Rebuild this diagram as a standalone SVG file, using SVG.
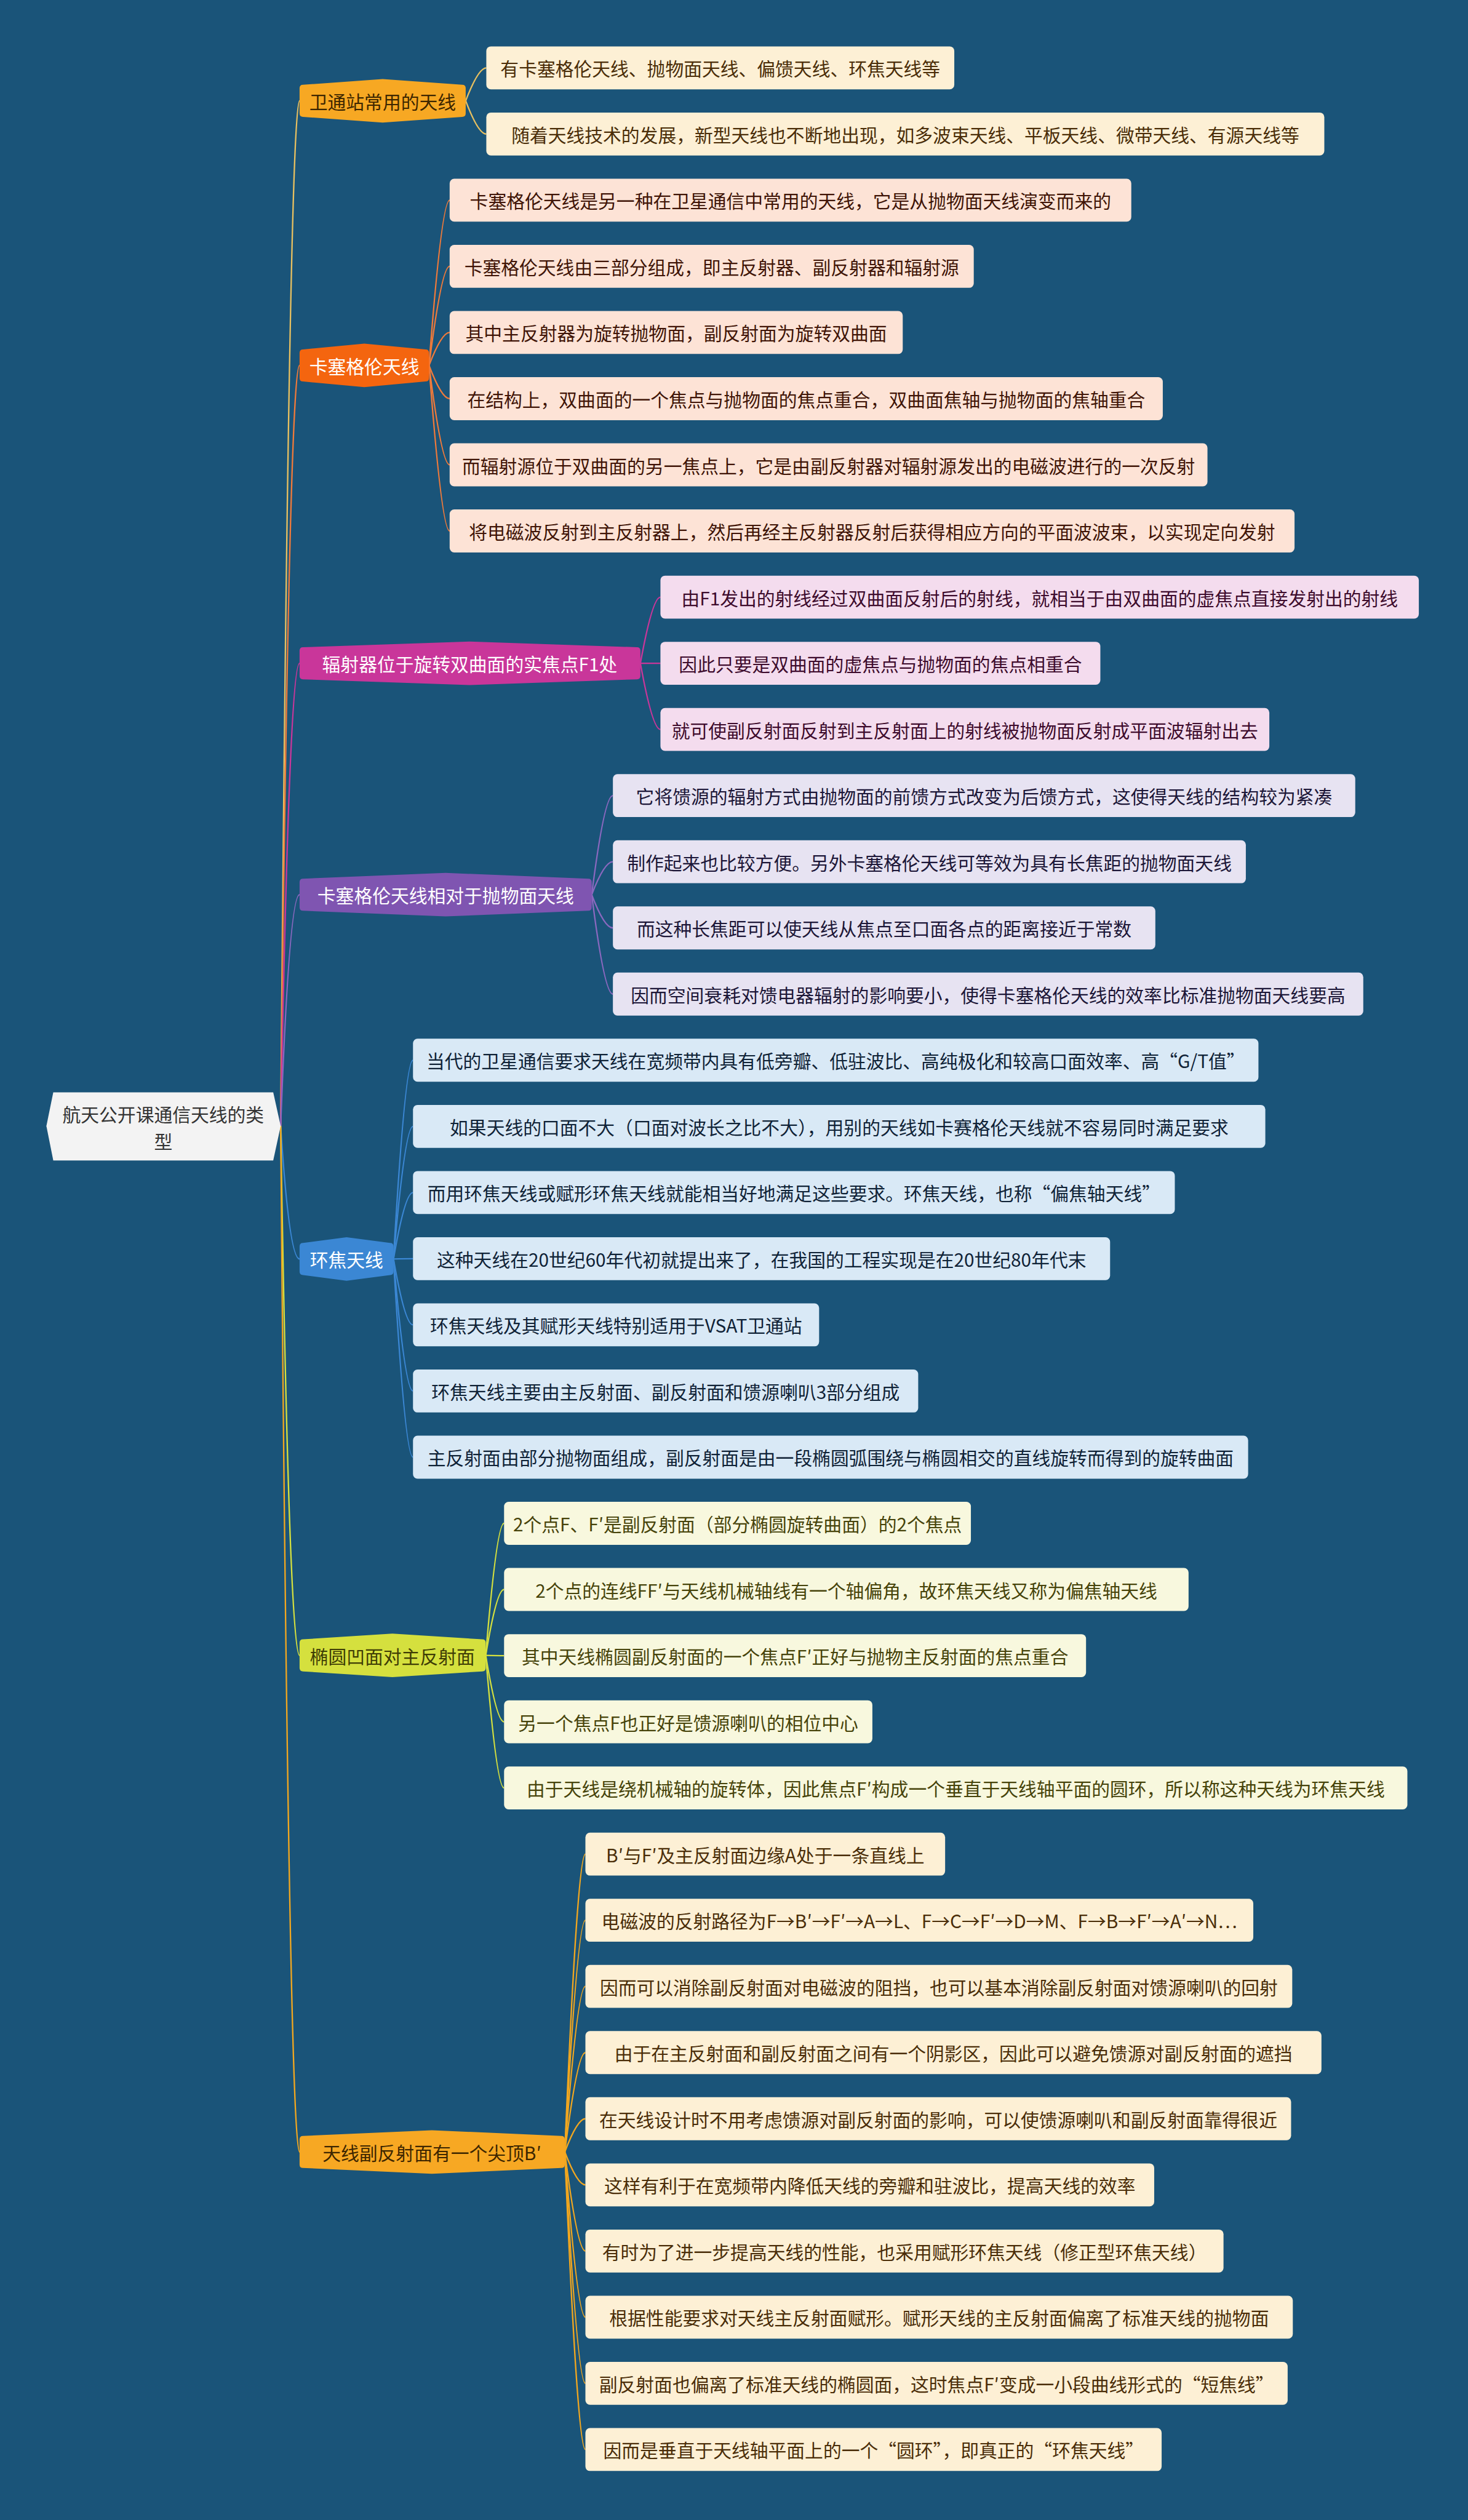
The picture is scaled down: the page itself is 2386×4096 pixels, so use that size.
<svg xmlns="http://www.w3.org/2000/svg" width="2386" height="4096" viewBox="0 0 2386 4096">
<style>
text{font-family:"Noto Sans CJK SC","Microsoft YaHei",sans-serif;font-size:32px;text-anchor:middle;dominant-baseline:central}
.cn path{fill:none;stroke-width:2.5}
.k1{stroke:#e8c060}.k2{stroke:#f07a3a}.k3{stroke:#c9369a}.k4{stroke:#8a68bf}.k5{stroke:#3b87d4}.k6{stroke:#d5e03e}.k7{stroke:#f2a71f}
.c rect.b{rx:8;ry:8}
.g1 .b,.g7 .b{fill:#fdf0d5}.g1 text,.g7 text{fill:#4a2d08}
.g2 .b{fill:#fde3d6}.g2 text{fill:#3f1406}
.g3 .b{fill:#f4dcee}.g3 text{fill:#3d0b2c}
.g4 .b{fill:#e7e3f2}.g4 text{fill:#1c1637}
.g5 .b{fill:#d9e9f6}.g5 text{fill:#0f2236}
.g6 .b{fill:#f8f8de}.g6 text{fill:#46430a}
</style>
<rect x="0" y="0" width="2386" height="4096" fill="#1a5479"/>
<g transform="scale(0.931)">
<g id="connectors" class="cn">
<path class="k1" d="M490 1966Q505 176 523 176"/>
<path class="k2" d="M490 1966Q505 638 523 638"/>
<path class="k3" d="M490 1966Q505 1158 523 1158"/>
<path class="k4" d="M490 1966Q505 1562 523 1562"/>
<path class="k5" d="M490 1966Q505 2198 523 2198"/>
<path class="k6" d="M490 1966Q505 2890 523 2890"/>
<path class="k7" d="M490 1966Q505 3757 523 3757"/>
<path class="k1" d="M813 176Q835 118.5 849 118.5"/>
<path class="k1" d="M813 176Q835 234 849 234"/>
<path class="k2" d="M749 638Q771 349.5 785 349.5"/>
<path class="k2" d="M749 638Q771 465 785 465"/>
<path class="k2" d="M749 638Q771 580.5 785 580.5"/>
<path class="k2" d="M749 638Q771 696 785 696"/>
<path class="k2" d="M749 638Q771 811.5 785 811.5"/>
<path class="k2" d="M749 638Q771 927 785 927"/>
<path class="k3" d="M1118 1158Q1139 1042.5 1153 1042.5"/>
<path class="k3" d="M1118 1158Q1139 1158 1153 1158"/>
<path class="k3" d="M1118 1158Q1139 1273.5 1153 1273.5"/>
<path class="k4" d="M1033 1562Q1055 1389 1070 1389"/>
<path class="k4" d="M1033 1562Q1055 1504.5 1070 1504.5"/>
<path class="k4" d="M1033 1562Q1055 1620 1070 1620"/>
<path class="k4" d="M1033 1562Q1055 1735.5 1070 1735.5"/>
<path class="k5" d="M687 2198Q707 1851 721 1851"/>
<path class="k5" d="M687 2198Q707 1966.5 721 1966.5"/>
<path class="k5" d="M687 2198Q707 2082 721 2082"/>
<path class="k5" d="M687 2198Q707 2197.5 721 2197.5"/>
<path class="k5" d="M687 2198Q707 2313 721 2313"/>
<path class="k5" d="M687 2198Q707 2428.5 721 2428.5"/>
<path class="k5" d="M687 2198Q707 2544 721 2544"/>
<path class="k6" d="M848 2890Q867 2659.5 880 2659.5"/>
<path class="k6" d="M848 2890Q867 2775 880 2775"/>
<path class="k6" d="M848 2890Q867 2890.5 880 2890.5"/>
<path class="k6" d="M848 2890Q867 3006 880 3006"/>
<path class="k6" d="M848 2890Q867 3121.5 880 3121.5"/>
<path class="k7" d="M986 3757Q1008 3237 1022 3237"/>
<path class="k7" d="M986 3757Q1008 3352.5 1022 3352.5"/>
<path class="k7" d="M986 3757Q1008 3468 1022 3468"/>
<path class="k7" d="M986 3757Q1008 3583.5 1022 3583.5"/>
<path class="k7" d="M986 3757Q1008 3699 1022 3699"/>
<path class="k7" d="M986 3757Q1008 3814.5 1022 3814.5"/>
<path class="k7" d="M986 3757Q1008 3930 1022 3930"/>
<path class="k7" d="M986 3757Q1008 4045.5 1022 4045.5"/>
<path class="k7" d="M986 3757Q1008 4161 1022 4161"/>
<path class="k7" d="M986 3757Q1008 4276.5 1022 4276.5"/>
</g>
<g id="root">
<path d="M81 1966L93 1907L477 1907L490 1966L477 2026L93 2026Z" fill="#f3f3f3"/>
<text x="285" y="1944" fill="#333333">航天公开课通信天线的类</text>
<text x="285" y="1991" fill="#333333">型</text>
</g>
<g id="b1"><path d="M529 148L668 138L807 148Q813 148 813 154L813 198Q813 204 807 204L668 214L529 204Q523 204 523 198L523 154Q523 148 529 148Z" fill="#f7a823"/><text x="668" y="176" fill="#3d2600">卫通站常用的天线</text></g>
<g id="b2"><path d="M529 610L636 600L743 610Q749 610 749 616L749 660Q749 666 743 666L636 676L529 666Q523 666 523 660L523 616Q523 610 529 610Z" fill="#f4650f"/><text x="636" y="638" fill="#ffffff">卡塞格伦天线</text></g>
<g id="b3"><path d="M529 1130L820 1120L1112 1130Q1118 1130 1118 1136L1118 1180Q1118 1186 1112 1186L820 1196L529 1186Q523 1186 523 1180L523 1136Q523 1130 529 1130Z" fill="#c9369a"/><text x="820" y="1158" fill="#ffffff">辐射器位于旋转双曲面的实焦点F1处</text></g>
<g id="b4"><path d="M529 1534L778 1524L1027 1534Q1033 1534 1033 1540L1033 1584Q1033 1590 1027 1590L778 1600L529 1590Q523 1590 523 1584L523 1540Q523 1534 529 1534Z" fill="#7f55b1"/><text x="778" y="1562" fill="#ffffff">卡塞格伦天线相对于抛物面天线</text></g>
<g id="b5"><path d="M529 2170L605 2160L681 2170Q687 2170 687 2176L687 2220Q687 2226 681 2226L605 2236L529 2226Q523 2226 523 2220L523 2176Q523 2170 529 2170Z" fill="#3b87d4"/><text x="605" y="2198" fill="#ffffff">环焦天线</text></g>
<g id="b6"><path d="M529 2862L685 2852L842 2862Q848 2862 848 2868L848 2912Q848 2918 842 2918L685 2928L529 2918Q523 2918 523 2912L523 2868Q523 2862 529 2862Z" fill="#d5e03e"/><text x="685" y="2890" fill="#3e3c05">椭圆凹面对主反射面</text></g>
<g id="b7"><path d="M529 3729L754 3719L980 3729Q986 3729 986 3735L986 3779Q986 3785 980 3785L754 3795L529 3785Q523 3785 523 3779L523 3735Q523 3729 529 3729Z" fill="#f7a823"/><text x="754" y="3757" fill="#3d2600">天线副反射面有一个尖顶B′</text></g>

<g class="c g1">
<g id="n0"><rect class="b" x="849" y="81" width="817" height="75"/><text x="1257.5" y="118.5">有卡塞格伦天线、抛物面天线、偏馈天线、环焦天线等</text></g>
<g id="n1"><rect class="b" x="849" y="196.5" width="1463" height="75"/><text x="1580.5" y="234">随着天线技术的发展，新型天线也不断地出现，如多波束天线、平板天线、微带天线、有源天线等</text></g>
</g>
<g class="c g2">
<g id="n2"><rect class="b" x="785" y="312" width="1190" height="75"/><text x="1380" y="349.5">卡塞格伦天线是另一种在卫星通信中常用的天线，它是从抛物面天线演变而来的</text></g>
<g id="n3"><rect class="b" x="785" y="427.5" width="915" height="75"/><text x="1242.5" y="465">卡塞格伦天线由三部分组成，即主反射器、副反射器和辐射源</text></g>
<g id="n4"><rect class="b" x="785" y="543" width="791" height="75"/><text x="1180.5" y="580.5">其中主反射器为旋转抛物面，副反射面为旋转双曲面</text></g>
<g id="n5"><rect class="b" x="785" y="658.5" width="1245" height="75"/><text x="1407.5" y="696">在结构上，双曲面的一个焦点与抛物面的焦点重合，双曲面焦轴与抛物面的焦轴重合</text></g>
<g id="n6"><rect class="b" x="785" y="774" width="1323" height="75"/><text x="1446.5" y="811.5">而辐射源位于双曲面的另一焦点上，它是由副反射器对辐射源发出的电磁波进行的一次反射</text></g>
<g id="n7"><rect class="b" x="785" y="889.5" width="1475" height="75"/><text x="1522.5" y="927">将电磁波反射到主反射器上，然后再经主反射器反射后获得相应方向的平面波波束，以实现定向发射</text></g>
</g>
<g class="c g3">
<g id="n8"><rect class="b" x="1153" y="1005" width="1324" height="75"/><text x="1815" y="1042.5">由F1发出的射线经过双曲面反射后的射线，就相当于由双曲面的虚焦点直接发射出的射线</text></g>
<g id="n9"><rect class="b" x="1153" y="1120.5" width="768" height="75"/><text x="1537" y="1158">因此只要是双曲面的虚焦点与抛物面的焦点相重合</text></g>
<g id="n10"><rect class="b" x="1153" y="1236" width="1063" height="75"/><text x="1684.5" y="1273.5">就可使副反射面反射到主反射面上的射线被抛物面反射成平面波辐射出去</text></g>
</g>
<g class="c g4">
<g id="n11"><rect class="b" x="1070" y="1351.5" width="1296" height="75"/><text x="1718" y="1389">它将馈源的辐射方式由抛物面的前馈方式改变为后馈方式，这使得天线的结构较为紧凑</text></g>
<g id="n12"><rect class="b" x="1070" y="1467" width="1105" height="75"/><text x="1622.5" y="1504.5">制作起来也比较方便。另外卡塞格伦天线可等效为具有长焦距的抛物面天线</text></g>
<g id="n13"><rect class="b" x="1070" y="1582.5" width="947" height="75"/><text x="1543.5" y="1620">而这种长焦距可以使天线从焦点至口面各点的距离接近于常数</text></g>
<g id="n14"><rect class="b" x="1070" y="1698" width="1310" height="75"/><text x="1725" y="1735.5">因而空间衰耗对馈电器辐射的影响要小，使得卡塞格伦天线的效率比标准抛物面天线要高</text></g>
</g>
<g class="c g5">
<g id="n15"><rect class="b" x="721" y="1813.5" width="1476" height="75"/><text x="1459" y="1851">当代的卫星通信要求天线在宽频带内具有低旁瓣、低驻波比、高纯极化和较高口面效率、高“G/T值”</text></g>
<g id="n16"><rect class="b" x="721" y="1929" width="1488" height="75"/><text x="1465" y="1966.5">如果天线的口面不大（口面对波长之比不大），用别的天线如卡赛格伦天线就不容易同时满足要求</text></g>
<g id="n17"><rect class="b" x="721" y="2044.5" width="1330" height="75"/><text x="1386" y="2082">而用环焦天线或赋形环焦天线就能相当好地满足这些要求。环焦天线，也称“偏焦轴天线”</text></g>
<g id="n18"><rect class="b" x="721" y="2160" width="1217" height="75"/><text x="1329.5" y="2197.5">这种天线在20世纪60年代初就提出来了，在我国的工程实现是在20世纪80年代末</text></g>
<g id="n19"><rect class="b" x="721" y="2275.5" width="709" height="75"/><text x="1075.5" y="2313">环焦天线及其赋形天线特别适用于VSAT卫通站</text></g>
<g id="n20"><rect class="b" x="721" y="2391" width="882" height="75"/><text x="1162" y="2428.5">环焦天线主要由主反射面、副反射面和馈源喇叭3部分组成</text></g>
<g id="n21"><rect class="b" x="721" y="2506.5" width="1458" height="75"/><text x="1450" y="2544">主反射面由部分抛物面组成，副反射面是由一段椭圆弧围绕与椭圆相交的直线旋转而得到的旋转曲面</text></g>
</g>
<g class="c g6">
<g id="n22"><rect class="b" x="880" y="2622" width="815" height="75"/><text x="1287.5" y="2659.5">2个点F、F′是副反射面（部分椭圆旋转曲面）的2个焦点</text></g>
<g id="n23"><rect class="b" x="880" y="2737.5" width="1195" height="75"/><text x="1477.5" y="2775">2个点的连线FF′与天线机械轴线有一个轴偏角，故环焦天线又称为偏焦轴天线</text></g>
<g id="n24"><rect class="b" x="880" y="2853" width="1016" height="75"/><text x="1388" y="2890.5">其中天线椭圆副反射面的一个焦点F′正好与抛物主反射面的焦点重合</text></g>
<g id="n25"><rect class="b" x="880" y="2968.5" width="643" height="75"/><text x="1201.5" y="3006">另一个焦点F也正好是馈源喇叭的相位中心</text></g>
<g id="n26"><rect class="b" x="880" y="3084" width="1577" height="75"/><text x="1668.5" y="3121.5">由于天线是绕机械轴的旋转体，因此焦点F′构成一个垂直于天线轴平面的圆环，所以称这种天线为环焦天线</text></g>
</g>
<g class="c g7">
<g id="n27"><rect class="b" x="1022" y="3199.5" width="628" height="75"/><text x="1336" y="3237">B′与F′及主反射面边缘A处于一条直线上</text></g>
<g id="n28"><rect class="b" x="1022" y="3315" width="1166" height="75"/><text x="1605" y="3352.5">电磁波的反射路径为F→B′→F′→A→L、F→C→F′→D→M、F→B→F′→A′→N…</text></g>
<g id="n29"><rect class="b" x="1022" y="3430.5" width="1234" height="75"/><text x="1639" y="3468">因而可以消除副反射面对电磁波的阻挡，也可以基本消除副反射面对馈源喇叭的回射</text></g>
<g id="n30"><rect class="b" x="1022" y="3546" width="1285" height="75"/><text x="1664.5" y="3583.5">由于在主反射面和副反射面之间有一个阴影区，因此可以避免馈源对副反射面的遮挡</text></g>
<g id="n31"><rect class="b" x="1022" y="3661.5" width="1232" height="75"/><text x="1638" y="3699">在天线设计时不用考虑馈源对副反射面的影响，可以使馈源喇叭和副反射面靠得很近</text></g>
<g id="n32"><rect class="b" x="1022" y="3777" width="993" height="75"/><text x="1518.5" y="3814.5">这样有利于在宽频带内降低天线的旁瓣和驻波比，提高天线的效率</text></g>
<g id="n33"><rect class="b" x="1022" y="3892.5" width="1114" height="75"/><text x="1579" y="3930">有时为了进一步提高天线的性能，也采用赋形环焦天线（修正型环焦天线）</text></g>
<g id="n34"><rect class="b" x="1022" y="4008" width="1235" height="75"/><text x="1639.5" y="4045.5">根据性能要求对天线主反射面赋形。赋形天线的主反射面偏离了标准天线的抛物面</text></g>
<g id="n35"><rect class="b" x="1022" y="4123.5" width="1226" height="75"/><text x="1635" y="4161">副反射面也偏离了标准天线的椭圆面，这时焦点F′变成一小段曲线形式的“短焦线”</text></g>
<g id="n36"><rect class="b" x="1022" y="4239" width="1006" height="75"/><text x="1525" y="4276.5">因而是垂直于天线轴平面上的一个“圆环”，即真正的“环焦天线”</text></g>
</g>
</g>
</svg>
